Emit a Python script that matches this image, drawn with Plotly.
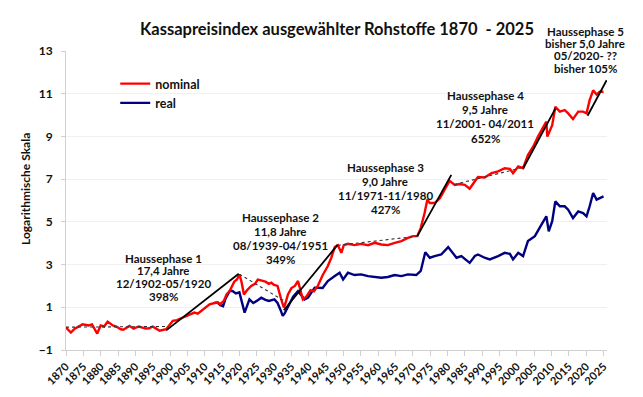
import plotly.graph_objects as go

# ---------------- data ----------------
nominal_years = [1870, 1871.4, 1872.5, 1874.8, 1876.5, 1877.5, 1879, 1880, 1881, 1882, 1883.5, 1884.5,
                 1885.8, 1886.5, 1888.3, 1889.5, 1891, 1892, 1893, 1894, 1895, 1896, 1897, 1898.9,
                 1899.5, 1900.8, 1902, 1903.5, 1905.6, 1907, 1908, 1909.5, 1910.9, 1911.4, 1913.3,
                 1914.5, 1915.5, 1916.3, 1917.2, 1918.5, 1919.3, 1920, 1920.6, 1921.3, 1922.2, 1923.4,
                 1924.5, 1925.3, 1926.5, 1927.5, 1928.5, 1929.2, 1930, 1931, 1932, 1932.8, 1933.3,
                 1934, 1935, 1936, 1936.9, 1937.5, 1938.3, 1939.3, 1940.5, 1941.5, 1942.6, 1944,
                 1945.5, 1946.5, 1947.5, 1948.4, 1949.4, 1950.1, 1951.3, 1953.2, 1955.1, 1957.1,
                 1959, 1960.9, 1962.8, 1964.8, 1966.7, 1968.6, 1970.1, 1971.3, 1972.3, 1973.4,
                 1974.2, 1974.9, 1976.3, 1977.8, 1979.2, 1980.6, 1982.1, 1983.5, 1985, 1986.4,
                 1987.9, 1988.8, 1990.7, 1992.7, 1994.6, 1996.5, 1998, 1998.9, 2000.4, 2001.8,
                 2003.2, 2004.7, 2006.1, 2007.6, 2008.5, 2008.8, 2009, 2010.2, 2011.1, 2012.4,
                 2013.8, 2014.8, 2016.2, 2017.7, 2019.1, 2020.1, 2021, 2022, 2023, 2023.9, 2025]
nominal_values = [0.05, -0.18, 0.0, 0.2, 0.15, 0.2, -0.23, 0.15, 0.1, 0.33, 0.15, 0.1,
                  -0.03, -0.05, 0.13, 0.0, 0.1, 0.05, 0.0, 0.02, 0.1, 0.0, -0.1, -0.03,
                  0.1, 0.37, 0.4, 0.5, 0.67, 0.75, 0.7, 0.9, 1.06, 1.14, 1.22,
                  1.15, 1.3, 1.6, 1.76, 2.2, 2.3, 2.54, 2.2, 1.6, 1.8, 2.0,
                  2.1, 2.3, 2.25, 2.2, 2.1, 2.15, 2.05, 2.0, 1.4, 0.99, 1.2,
                  1.6, 1.9, 2.0, 2.23, 1.9, 1.37, 1.5, 1.8, 1.75, 2.0, 2.5,
                  2.93, 3.32, 3.82, 3.91, 3.55, 3.91, 3.97, 3.91, 3.97, 3.91,
                  4.02, 3.94, 3.91, 4.02, 4.1, 4.25, 4.33, 4.33, 4.72, 5.41,
                  6.05, 5.88, 5.88, 6.11, 6.5, 6.92, 6.73, 6.77, 6.73, 6.55,
                  6.9, 7.1, 7.08, 7.28, 7.36, 7.51, 7.48, 7.28, 7.59, 7.51,
                  8.13, 8.52, 8.99, 9.46, 9.69, 8.99, 9.07, 9.53, 10.39, 10.16,
                  10.23, 10.08, 9.81, 10.16, 10.16, 10.08, 10.7, 11.16, 10.96, 11.09, 11.09]

real_years = [1912.8, 1913.8, 1914.5, 1915.3, 1916, 1917.2, 1918, 1919, 1920, 1920.7, 1921.5,
              1922.9, 1924, 1925, 1926.3, 1927.5, 1928.5, 1930.1, 1931, 1931.8, 1932.5, 1933,
              1934.5, 1935.5, 1936.9, 1938.8, 1939.8, 1941.7, 1944, 1945.5, 1947.5, 1948.9,
              1949.9, 1951.3, 1953.2, 1955.1, 1957.1, 1959, 1960.9, 1962.8, 1964.8, 1966.7,
              1968.6, 1971, 1972.3, 1973.6, 1974.9, 1976.3, 1978.2, 1980.2, 1981.6, 1982.6,
              1984, 1986.4, 1987.9, 1988.8, 1990.7, 1992.2, 1994.6, 1996.5, 1998, 1998.9,
              2000.4, 2001.8, 2003.2, 2005.2, 2007.1, 2008.5, 2009.2, 2010.2, 2011.1, 2012.4,
              2013.8, 2014.8, 2016.2, 2017.7, 2019.1, 2020.1, 2021, 2022, 2023, 2023.9, 2025]
real_values = [1.2, 1.22, 1.1, 1.05, 1.4, 1.76, 1.76, 1.65, 1.7, 1.2, 0.75,
               1.37, 1.2, 1.3, 1.45, 1.35, 1.3, 1.37, 1.2, 0.9, 0.6, 0.7,
               1.22, 1.5, 1.76, 1.37, 1.45, 1.92, 1.9, 2.23, 2.46, 2.62,
               2.3, 2.62, 2.51, 2.54, 2.46, 2.42, 2.38, 2.42, 2.51, 2.46,
               2.54, 2.51, 2.7, 3.58, 3.32, 3.4, 3.47, 3.82, 3.55, 3.32,
               3.4, 3.08, 3.4, 3.47, 3.32, 3.24, 3.4, 3.55, 3.5, 3.24,
               3.55, 3.4, 4.1, 4.33, 4.87, 5.26, 4.56, 5.03, 5.96, 5.73,
               5.73, 5.57, 5.18, 5.49, 5.41, 5.26, 5.73, 6.35, 6.04, 6.11, 6.19]

# Haussephasen trend lines (solid)
trend_start_year = [1898.9, 1932.8, 1971.3, 2001.8, 2020.4]
trend_start_val = [-0.08, 0.86, 4.33, 7.5, 9.97]
trend_end_year = [1919.8, 1948.3, 1981.1, 2011.1, 2025.9]
trend_end_val = [2.57, 3.92, 7.2, 10.3, 11.63]

# sideways phases (dotted)
side_start_year = [1870, 1920, 1948.4, 1982]
side_start_val = [0.07, 2.55, 3.9, 6.75]
side_end_year = [1899, 1932.9, 1971.3, 2001.8]
side_end_val = [0.1, 1.3, 4.33, 7.55]

phase_texts = [
    ["Haussephase 1", "17,4 Jahre", "12/1902-05/1920", "398%"],
    ["Haussephase 2", "11,8 Jahre", "08/1939-04/1951", "349%"],
    ["Haussephase 3", "9,0 Jahre", "11/1971-11/1980", "427%"],
    ["Haussephase 4", "9,5 Jahre", "11/2001- 04/2011", "652%"],
    ["Haussephase 5", "bisher 5,0 Jahre", "05/2020- ??", "bisher 105%"],
]

x_ticks = list(range(1870, 2030, 5))
y_ticks = [-1, 1, 3, 5, 7, 9, 11, 13]

title_text = "Kassapreisindex ausgewählter Rohstoffe 1870  - 2025"
y_title = "Logarithmische Skala"

# ---------------- layout geometry ----------------
W, H = 643, 397
L, R, T, B = 58, 44, 43, 55
PX0, PX1 = L, W - R
PY0, PY1 = T, H - B
FONT = "Lato, 'Open Sans', 'DejaVu Sans', sans-serif"


def px_to_paper(px, py):
    return (px - PX0) / (PX1 - PX0), (PY1 - py) / (PY1 - PY0)


fig = go.Figure()

fig.add_trace(go.Scatter(x=real_years, y=real_values, mode="lines", name="real",
                         legendrank=2, line=dict(color="#000080", width=2.4)))
fig.add_trace(go.Scatter(x=nominal_years, y=nominal_values, mode="lines", name="nominal",
                         legendrank=1, line=dict(color="#ff0000", width=2.4)))

tx, ty = [], []
for a, b, c, d in zip(trend_start_year, trend_start_val, trend_end_year, trend_end_val):
    tx += [a, c, None]
    ty += [b, d, None]
fig.add_trace(go.Scatter(x=tx, y=ty, mode="lines", showlegend=False, hoverinfo="skip",
                         line=dict(color="black", width=1.8)))

sx, sy = [], []
for a, b, c, d in zip(side_start_year, side_start_val, side_end_year, side_end_val):
    sx += [a, c, None]
    sy += [b, d, None]
fig.add_trace(go.Scatter(x=sx, y=sy, mode="lines", showlegend=False, hoverinfo="skip",
                         line=dict(color="#333333", width=1.1, dash="dot")))

# phase labels: (center x px, first line y px, spacing px)
phase_pos = [(155, 250, 12.8), (272, 209, 14.2), (377, 159, 14.2), (477, 87, 14.4), (577, 23, 12.4)]
annotations = []
for lines, (cx, y0, dy) in zip(phase_texts, phase_pos):
    for i, line in enumerate(lines):
        px, py = px_to_paper(cx, y0 + i * dy)
        annotations.append(dict(text=line, x=px, y=py, xref="paper", yref="paper",
                                xanchor="center", yanchor="middle", showarrow=False,
                                font=dict(family=FONT, size=11.5, color="#111111", weight="bold")))

ax, ay = px_to_paper(17, 181)
annotations.append(dict(text=y_title, x=ax, y=ay, xref="paper", yref="paper", textangle=-90,
                        xanchor="center", yanchor="middle", showarrow=False,
                        font=dict(family=FONT, size=12, color="#111111", weight="bold")))

fig.update_layout(
    width=W, height=H,
    margin=dict(l=L, r=R, t=T, b=B, pad=0),
    paper_bgcolor="white", plot_bgcolor="white",
    font=dict(family=FONT, color="#111111"),
    title=dict(text=title_text, x=329 / W, y=1 - 21 / H, xref="container", yref="container",
               xanchor="center", yanchor="middle",
               font=dict(family=FONT, size=16.5, color="#111111", weight="bold")),
    legend=dict(x=0.091, y=px_to_paper(0, 61)[1], xanchor="left", yanchor="top",
                traceorder="normal", bgcolor="rgba(0,0,0,0)", itemwidth=30,
                font=dict(family=FONT, size=12.5, color="#111111", weight="bold"),
                tracegroupgap=3),
    annotations=annotations,
    showlegend=True,
)

fig.update_xaxes(range=[1870, 2026], tickmode="array", tickvals=x_ticks,
                 ticktext=[str(v) for v in x_ticks], tickangle=-45,
                 tickfont=dict(family=FONT, size=11, color="#111111", weight="bold"),
                 showgrid=False, zeroline=False, showline=True, linecolor="#d0d0d0", linewidth=1,
                 ticks="outside", ticklen=5, tickcolor="#d0d0d0")
fig.update_yaxes(range=[-1, 13], tickmode="array", tickvals=y_ticks,
                 tickfont=dict(family=FONT, size=12, color="#111111", weight="bold"),
                 showgrid=True, gridcolor="#f0f0f0", zeroline=False, showline=True,
                 linecolor="#d0d0d0", linewidth=1, ticks="outside", ticklen=4,
                 tickcolor="#d0d0d0", ticklabelstandoff=6)

fig.write_html("out.html")
